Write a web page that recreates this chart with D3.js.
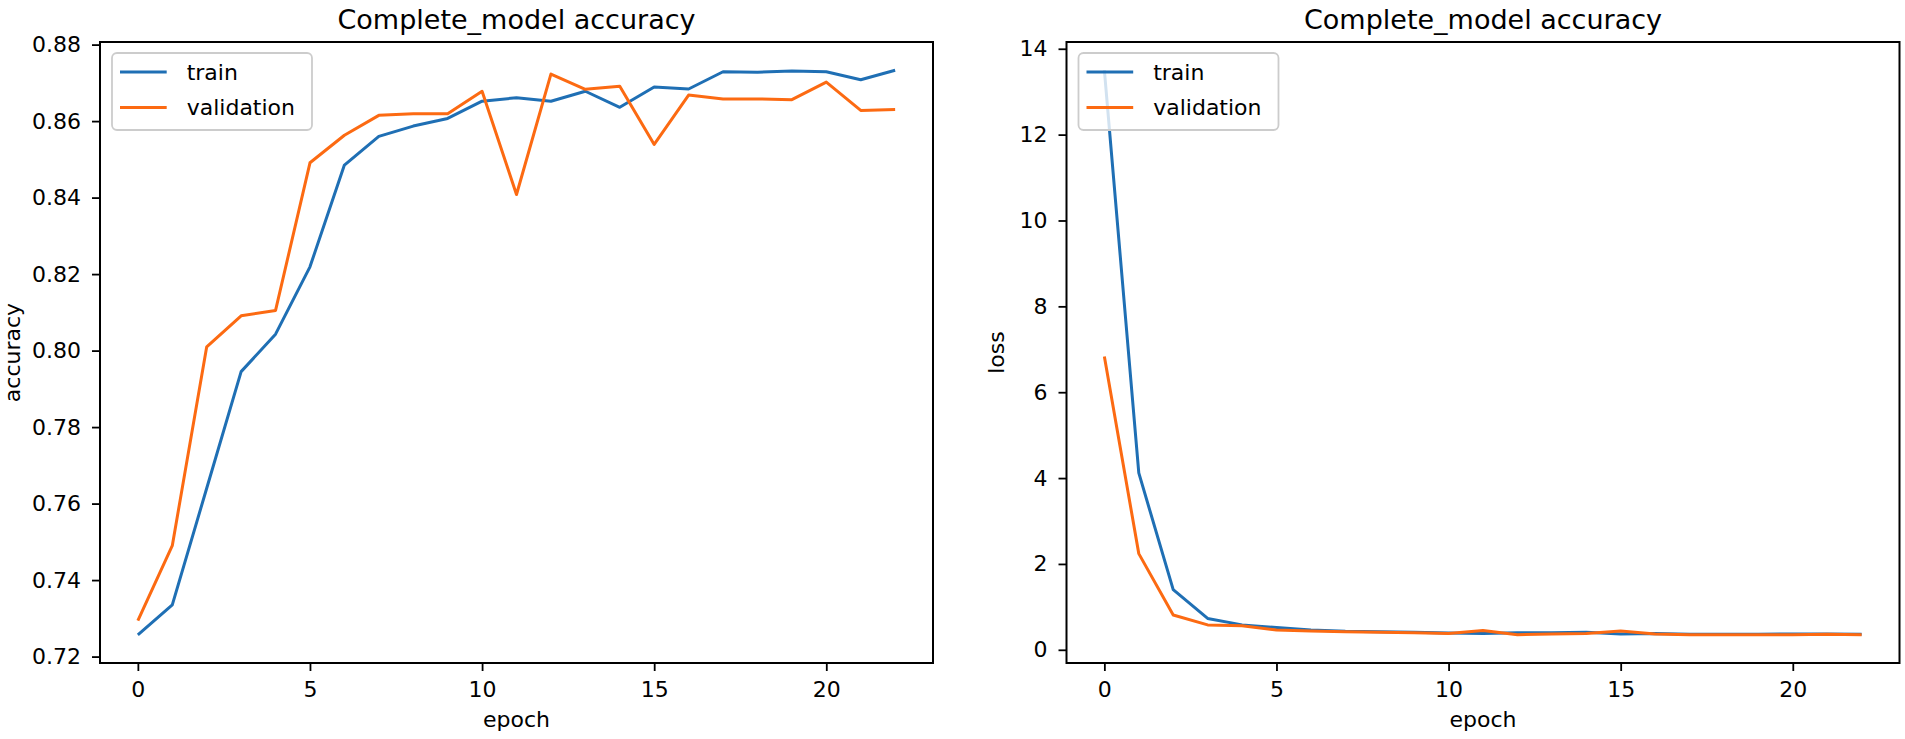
<!DOCTYPE html>
<html><head><meta charset="utf-8">
<script src="https://cdn.jsdelivr.net/npm/d3@7"></script>
<style>body{margin:0;background:#fff}</style>
</head><body><svg id="c" width="1905" height="739"></svg>
<script>
const epochs = [0,1,2,3,4,5,6,7,8,9,10,11,12,13,14,15,16,17,18,19,20,21,22];
const trainAcc = [0.7257,0.7335,0.7640,0.7945,0.8043,0.8219,0.8485,0.8560,0.8587,0.8607,0.8652,0.8661,0.8652,0.8678,0.8636,0.8689,0.8684,0.8729,0.8728,0.8731,0.8729,0.8708,0.8733];
const valAcc   = [0.7294,0.7490,0.8010,0.8091,0.8105,0.8491,0.8563,0.8615,0.8619,0.8619,0.8678,0.8408,0.8723,0.8683,0.8691,0.8539,0.8668,0.8658,0.8658,0.8656,0.8702,0.8628,0.8630];
const trainLoss = [13.5,4.12,1.40,0.73,0.58,0.52,0.46,0.43,0.42,0.41,0.39,0.38,0.40,0.40,0.41,0.37,0.38,0.36,0.36,0.36,0.37,0.37,0.36];
const valLoss   = [6.83,2.24,0.81,0.58,0.56,0.46,0.44,0.42,0.41,0.40,0.38,0.45,0.35,0.37,0.38,0.44,0.37,0.35,0.35,0.35,0.35,0.36,0.35];
const xTicks = [0,5,10,15,20];
const accTicks = [0.72,0.74,0.76,0.78,0.80,0.82,0.84,0.86,0.88];
const lossTicks = [0,2,4,6,8,10,12,14];
const seriesNames = ["train","validation"];
const colors = ["#1f6fb4","#fc6a12"];
const titles = ["Complete_model accuracy","Complete_model accuracy"];
const yLabels = ["accuracy","loss"];
const xLabel = "epoch";

const svg = d3.select("#c");
const font = "DejaVu Sans";

function panel(cfg) {
  const {left,right,top,bottom} = cfg;
  const g = svg.append("g");
  const x = d3.scaleLinear().domain([-1.1, 23.1]).range([left,right]);
  const all = cfg.series.flat();
  const mn = d3.min(all), mx = d3.max(all), pad = (mx-mn)*0.05;
  const y = d3.scaleLinear().domain([mn-pad, mx+pad]).range([bottom, top]);
  const line = d3.line().x((d,i)=>x(epochs[i])).y(d=>y(d));
  cfg.series.forEach((s,k)=> g.append("path").datum(s).attr("d",line)
     .attr("fill","none").attr("stroke",colors[k]).attr("stroke-width",3)
     .attr("stroke-linejoin","round").attr("stroke-linecap","butt"));
  const xa = g.append("g").attr("transform",`translate(0,${bottom})`)
     .call(d3.axisBottom(x).tickValues(xTicks).tickSize(8).tickPadding(10).tickFormat(d3.format("d")));
  const ya = g.append("g").attr("transform",`translate(${left},0)`)
     .call(d3.axisLeft(y).tickValues(cfg.yTicks).tickSize(8).tickPadding(11).tickFormat(cfg.yFmt));
  [xa,ya].forEach(a=>{
    a.select(".domain").remove();
    a.selectAll("line").attr("stroke","#000").attr("stroke-width",1.8);
    a.selectAll("text").attr("font-family",font).attr("font-size",22).attr("fill","#000");
  });
  g.append("rect").attr("x",left).attr("y",top).attr("width",right-left).attr("height",bottom-top)
    .attr("fill","none").attr("stroke","#000").attr("stroke-width",2);
  g.append("text").attr("x",(left+right)/2).attr("y",28.5).attr("text-anchor","middle")
    .attr("font-family",font).attr("font-size",27).text(cfg.title);
  g.append("text").attr("x",(left+right)/2).attr("y",727).attr("text-anchor","middle")
    .attr("font-family",font).attr("font-size",22).text(xLabel);
  g.append("text").attr("transform",`translate(${cfg.ylabX},${(top+bottom)/2}) rotate(-90)`)
    .attr("text-anchor","middle").attr("font-family",font).attr("font-size",22).text(cfg.ylabel);
  const lg = g.append("g").attr("transform",`translate(${left+12},${top+11})`);
  lg.append("rect").attr("width",200).attr("height",77).attr("rx",5)
    .attr("fill","#fff").attr("fill-opacity",0.8).attr("stroke","#cccccc").attr("stroke-width",1.8);
  seriesNames.forEach((n,k)=>{
    const yy = 19 + k*35.6;
    lg.append("line").attr("x1",8).attr("x2",54.7).attr("y1",yy).attr("y2",yy)
      .attr("stroke",colors[k]).attr("stroke-width",3);
    lg.append("text").attr("x",74.7).attr("y",yy).attr("dy","0.35em")
      .attr("font-family",font).attr("font-size",22).text(n);
  });
}

panel({left:100,right:933,top:42,bottom:663,series:[trainAcc,valAcc],yTicks:accTicks,
  yFmt:d3.format(".2f"),title:titles[0],ylabel:yLabels[0],ylabX:19.5});
panel({left:1066.5,right:1899.5,top:42,bottom:663,series:[trainLoss,valLoss],yTicks:lossTicks,
  yFmt:d3.format("d"),title:titles[1],ylabel:yLabels[1],ylabX:1003.5});
</script></body></html>
